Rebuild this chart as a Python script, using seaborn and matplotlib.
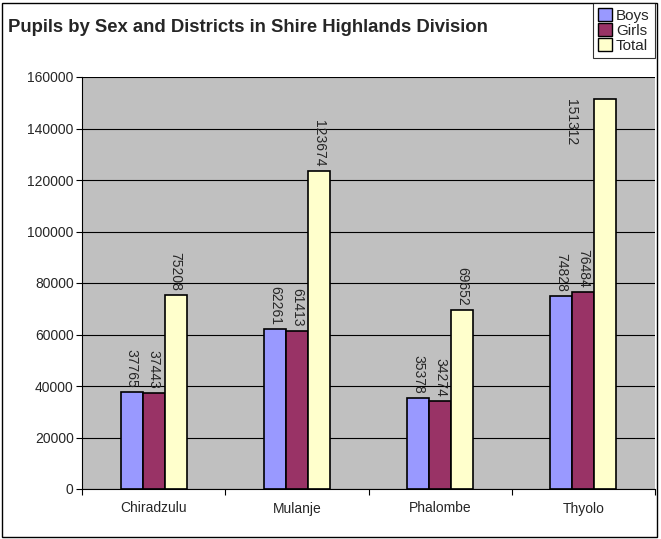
import numpy as np
import matplotlib.pyplot as plt
import seaborn as sns
import pandas as pd
from matplotlib.patches import Rectangle

# Data
districts = ['Chiradzulu', 'Mulanje', 'Phalombe', 'Thyolo']
boys = [37765, 62261, 35378, 74828]
girls = [37443, 61413, 34274, 76484]
total = [75208, 123674, 69652, 151312]
series = ['Boys', 'Girls', 'Total']
colors = ['#9999FF', '#993366', '#FFFFCC']

df = pd.DataFrame({'District': districts, 'Boys': boys, 'Girls': girls, 'Total': total})
long_df = df.melt(id_vars='District', var_name='Sex', value_name='Pupils')

sns.set_style('white')
plt.rcParams['font.family'] = ['Liberation Sans', 'DejaVu Sans']

fig = plt.figure(figsize=(6.61, 5.39), dpi=100)
ax = fig.add_axes([82 / 661, 1 - 489 / 539, (655 - 82) / 661, (489 - 77) / 539])

sns.barplot(data=long_df, x='District', y='Pupils', hue='Sex', hue_order=series,
            palette=colors, width=0.46, edgecolor='black', linewidth=1.2,
            saturation=1, ax=ax, legend=False)

ax.set_facecolor('#C0C0C0')
ax.set_ylim(0, 160000)
ax.set_xlim(-0.5, 3.5)
ax.set_yticks(np.arange(0, 160001, 20000))
ax.yaxis.grid(True, color='black', linewidth=0.8)
ax.set_axisbelow(True)
ax.set_xlabel('')
ax.set_ylabel('')
for side in ['top', 'right']:
    ax.spines[side].set_visible(False)
for side in ['left', 'bottom']:
    ax.spines[side].set_color('black')
    ax.spines[side].set_linewidth(0.8)
ax.tick_params(axis='y', labelsize=10, length=4, width=0.8, color='black',
               direction='out', left=True, pad=2)
ax.tick_params(axis='x', which='major', labelsize=10, length=0, pad=9)
ax.set_xticks(np.arange(-0.5, 3.6, 1), minor=True)
ax.tick_params(axis='x', which='minor', length=4, width=0.8, color='black',
               direction='out', bottom=True)

for cont in ax.containers:
    labels = ax.bar_label(cont, fmt='%d', rotation=270, padding=3, fontsize=10)
    for t in labels:
        if t.get_text() == str(total[3]):
            # this one sits beside the bar top, as in the original
            t.xyann = (-25, 0)
            t.set_va('top')

# Legend
handles = [Rectangle((0, 0), 1, 1, facecolor=c, edgecolor='black', linewidth=1) for c in colors]
leg = fig.legend(handles, series, loc='upper right', bbox_to_anchor=(655 / 661, 1 - 3 / 539),
                 fontsize=11, frameon=True, fancybox=False, edgecolor='black',
                 handlelength=0.9, handleheight=0.9, handletextpad=0.25,
                 borderpad=0.35, labelspacing=0.02, borderaxespad=0)
leg.get_frame().set_linewidth(0.8)

fig.text(8 / 661, 1 - 27 / 539, 'Pupils by Sex and Districts in Shire Highlands Division',
         fontsize=13.3, fontweight='bold', va='center', ha='left')

fig.patches.append(Rectangle((2 / 661, 2 / 539), 655 / 661, 534 / 539, transform=fig.transFigure,
                             fill=False, edgecolor='black', linewidth=1))

fig.savefig('out.png', dpi=100)
